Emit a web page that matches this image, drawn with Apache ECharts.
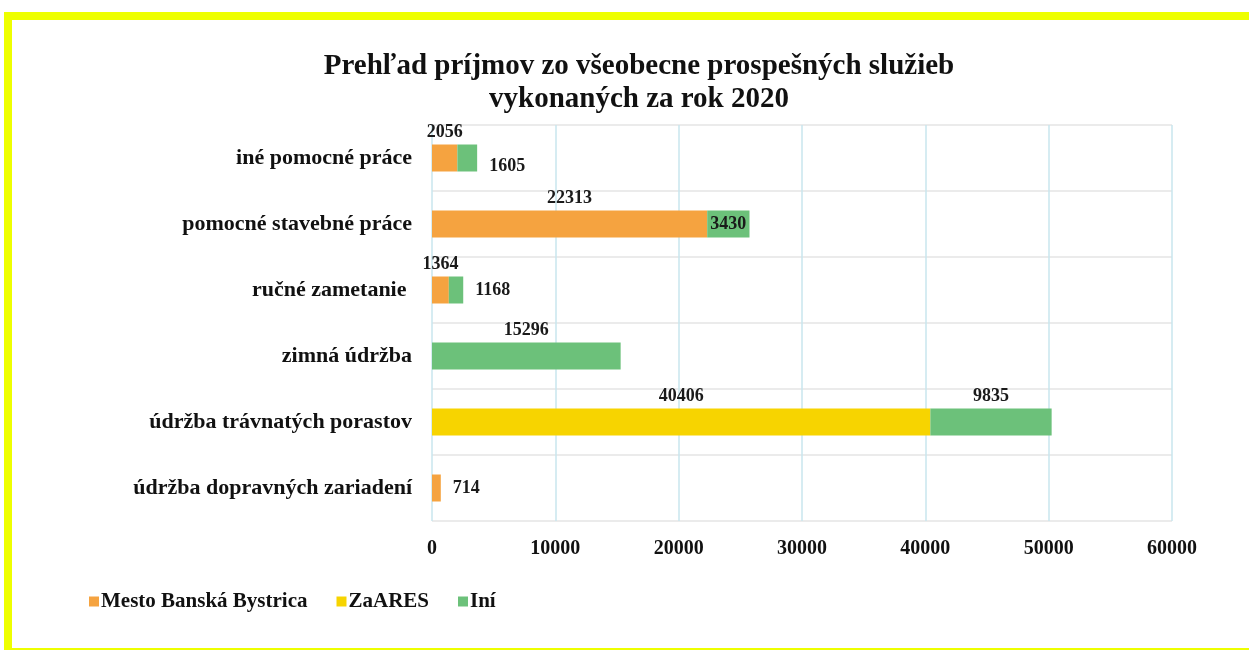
<!DOCTYPE html>
<html>
<head>
<meta charset="utf-8">
<script src="https://cdn.jsdelivr.net/npm/echarts@6/dist/echarts.min.js"></script>
<style>
  html, body { margin: 0; padding: 0; background: #fff; }
  #wrap { position: relative; width: 1249px; height: 650px; overflow: hidden; }
  #main { position: absolute; left: 0; top: 0; width: 1249px; height: 650px; }
  #frame { position: absolute; left: 4px; top: 12px; width: 1250px; height: 628px;
    border: 8px solid #eeff00; border-right: none; box-sizing: content-box; pointer-events: none; }
</style>
</head>
<body>
<div id="wrap">
  <div id="main"></div>
  <div id="frame"></div>
</div>
<script>
// kategórie zhora nadol
var categories = ['iné pomocné práce', 'pomocné stavebné práce', 'ručné zametanie ', 'zimná údržba', 'údržba trávnatých porastov', 'údržba dopravných zariadení'];
var mestoBB = [2056, 22313, 1364, null, null, 714];
var zaares = [null, null, null, null, 40406, null];
var ini = [1605, 3430, 1168, 15296, 9835, null];
var xTicks = [0, 10000, 20000, 30000, 40000, 50000, 60000];

// kde stoji popis pri ktorom stlpci
var posMesto = ['top', 'top', 'top', 'top', 'top', 'right'];
var posZaares = ['top', 'top', 'top', 'top', 'top', 'top'];
var posIni = ['right', 'inside', 'right', 'top', 'top', 'top'];

var font = '"Liberation Serif", "Times New Roman", serif';
var colorArray = ['#f5a340', '#f7d400', '#6cc17a'];

function withLabels(vals, pos) {
  return vals.map(function (v, i) {
    var lab = { show: true, position: pos[i], distance: 3 };
    if (pos[i] == 'right') { lab.distance = 12; }
    if (i == 0 && pos[i] == 'right') { lab.offset = [0, 8]; }
    return { value: v, label: lab };
  });
}

var chart = echarts.init(document.getElementById('main'));
var labelStyle = {
  fontFamily: font, fontWeight: 'bold', fontSize: 18, color: '#1a1a1a'
};
var option = {
  backgroundColor: '#ffffff',
  color: colorArray,
  animation: false,
  title: {
    text: 'Prehľad príjmov zo všeobecne prospešných služieb\nvykonaných za rok 2020',
    left: 634, textAlign: 'center', top: 45,
    textStyle: { fontFamily: font, fontWeight: 'bold', fontSize: 29, lineHeight: 33, color: '#111' }
  },
  legend: {
    left: 84, top: 586,
    itemWidth: 10, itemHeight: 10, itemGap: 29,
    icon: 'rect',
    textStyle: { fontFamily: font, fontWeight: 'bold', fontSize: 21, color: '#111', padding: [0, 0, 0, -3] },
    data: ['Mesto Banská Bystrica', 'ZaARES', 'Iní']
  },
  grid: { left: 432, right: 77, top: 125, bottom: 129 },
  xAxis: {
    type: 'value', min: 0, max: 60000, interval: 10000,
    axisLine: { show: false }, axisTick: { show: false },
    splitLine: { show: true, lineStyle: { color: '#c9e6ee', width: 1.5 } },
    axisLabel: {
      margin: 18, fontFamily: font, fontWeight: 'bold', fontSize: 20, color: '#111',
      formatter: function (v) { return xTicks.indexOf(v) >= 0 ? String(v) : ''; }
    }
  },
  yAxis: {
    type: 'category', data: categories, inverse: true,
    axisLine: { show: false }, axisTick: { show: false },
    splitLine: { show: true, lineStyle: { color: '#e4e4e4', width: 1.5 } },
    axisLabel: { margin: 20, fontFamily: font, fontWeight: 'bold', fontSize: 22, color: '#111' }
  },
  series: [
    {
      name: 'Mesto Banská Bystrica', type: 'bar', stack: 'spolu', barWidth: 27,
      label: labelStyle, data: withLabels(mestoBB, posMesto)
    },
    {
      name: 'ZaARES', type: 'bar', stack: 'spolu', barWidth: 27,
      label: labelStyle, data: withLabels(zaares, posZaares)
    },
    {
      name: 'Iní', type: 'bar', stack: 'spolu', barWidth: 27,
      label: labelStyle, data: withLabels(ini, posIni)
    }
  ]
};
chart.setOption(option);
</script>
</body>
</html>
